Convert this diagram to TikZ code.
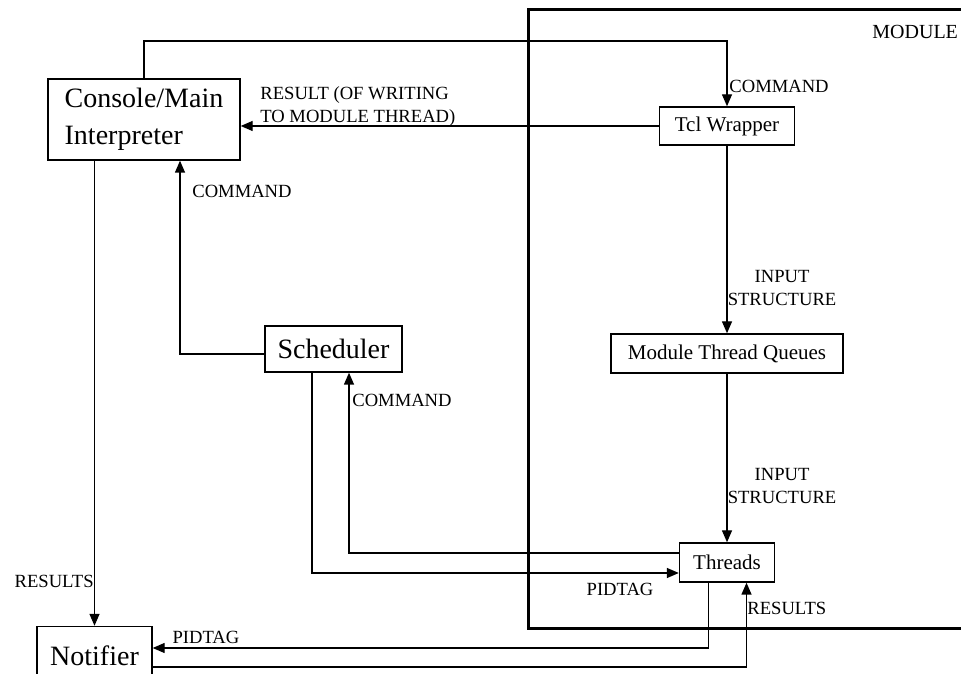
\documentclass[tikz,border=0pt]{standalone}
\usepackage{fontspec}
\setmainfont{Liberation Serif}
\usetikzlibrary{arrows.meta}

\begin{document}
\begin{tikzpicture}[x=0.5pt,y=0.5pt,
  box/.style={draw,line width=0.7pt,inner sep=0pt,fill=white},
  big/.style={font=\fontsize{14}{18.5}\selectfont},
  mid/.style={font=\fontsize{10.5}{12}\selectfont},
  lbl/.style={font=\fontsize{9.3}{11.5}\selectfont,inner sep=0pt},
  flow/.style={line width=0.7pt,-{Triangle[length=6pt,width=5pt]}}]
\useasboundingbox (0,0) rectangle (961,673);
\clip (0,0) rectangle (961,673);
\fill[white] (0,0) rectangle (961,673);
% module frame
\draw[line width=1.5pt] (528,45) rectangle (995,663);
\node[lbl,font=\fontsize{10}{12}\selectfont,anchor=west] (modlbl) at (872,641) {MODULE};
% boxes
\node[box,big,align=left,minimum width=96pt,minimum height=40.5pt] (con) at (144,553.5) {Console/Main\\Interpreter};
\node[box,mid,minimum width=67.5pt,minimum height=19pt] (tcl) at (727,547) {Tcl Wrapper};
\node[box,big,minimum width=68.5pt,minimum height=23pt] (sch) at (333.5,324) {Scheduler};
\node[box,mid,minimum width=116pt,minimum height=19.5pt] (mtq) at (727,319.5) {Module Thread Queues};
\node[box,mid,minimum width=47.5pt,minimum height=19.5pt] (thr) at (727,110.5) {Threads};
\node[box,big,minimum width=57.5pt,minimum height=29pt] (ntf) at (94.5,17.5) {Notifier};
% connectors
\coordinate (top) at (0,632);
\draw[flow] (con.north) -- (con.north |- top) -| (tcl.north);
\draw[flow] (tcl.west) -- (tcl.west -| con.east);
\draw[flow] (ntf.north |- con.south) -- (ntf.north);
\draw[flow] ([yshift=-2.5pt]sch.west) -| ([xshift=18pt]con.south);
\draw[flow] (tcl.south) -- (mtq.north);
\draw[flow] (mtq.south) -- (thr.north);
\draw[flow] ([xshift=-10.75pt]sch.south) |- ([yshift=-5.25pt]thr.west);
\draw[flow] ([yshift=4.75pt]thr.west) -| ([xshift=7.75pt]sch.south);
\draw[flow] ([xshift=-9.25pt]thr.south) |- ([yshift=3.75pt]ntf.east);
\draw[flow] ([yshift=-5.75pt]ntf.east) -| ([xshift=9.75pt]thr.south);
% labels
\node[lbl,anchor=west] (cmdtcl) at (729,587) {COMMAND};
\node[lbl,anchor=west,align=left] (reslbl) at (260,566) {RESULT (OF WRITING\\TO MODULE THREAD)};
\node[lbl,anchor=west] (cmdcon) at (192,482) {COMMAND};
\node[lbl,anchor=east] (resntf) at (94,92) {RESULTS};
\node[lbl,anchor=west] (cmdsch) at (352,273) {COMMAND};
\node[lbl,align=center] (inpmtq) at (782,385) {INPUT\\STRUCTURE};
\node[lbl,align=center] (inpthr) at (782,186.5) {INPUT\\STRUCTURE};
\node[lbl] (pidthr) at (620,83.5) {PIDTAG};
\node[lbl] (pidntf) at (206,35.5) {PIDTAG};
\node[lbl,anchor=west] (resthr) at (747,65) {RESULTS};
\end{tikzpicture}
\end{document}
